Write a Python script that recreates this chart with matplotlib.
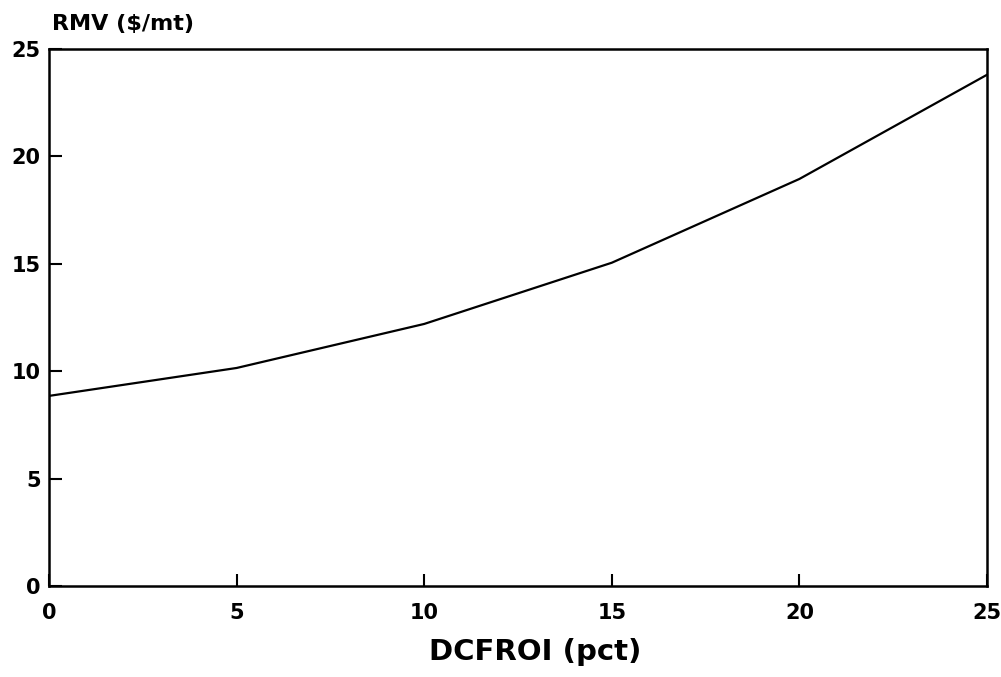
import matplotlib
matplotlib.use("Agg")
import matplotlib.pyplot as plt

dcfroi = [0, 5, 10, 15, 20, 25]
rmv = [8.85, 10.15, 12.2, 15.05, 18.95, 23.8]
xticks = [0, 5, 10, 15, 20, 25]
yticks = [0, 5, 10, 15, 20, 25]

W, H = 1001, 677
fig = plt.figure(figsize=(W / 100, H / 100), dpi=100)
left, right, bottom, top = 49, 987, 586, 49
ax = fig.add_axes([left / W, 1 - bottom / H, (right - left) / W, (bottom - top) / H])

ax.plot(dcfroi, rmv, color="black", lw=1.6)
ax.set_xlim(0, 25)
ax.set_ylim(0, 25)
ax.set_xticks(xticks)
ax.set_yticks(yticks)
font = ["DejaVu Sans"]
ax.set_xticklabels([str(t) for t in xticks], fontsize=15, fontweight="bold", family=font)
ax.set_yticklabels([str(t) for t in yticks], fontsize=15, fontweight="bold", family=font)
ax.tick_params(axis="both", direction="in", length=9, width=1.5, color="black")
ax.tick_params(axis="x", pad=12)
ax.tick_params(axis="y", pad=6)
for s in ax.spines.values():
    s.set_linewidth(1.8)
    s.set_color("black")

fig.text(52 / W, 1 - 24 / H, "RMV ($/mt)", fontsize=16, fontweight="bold",
         family=font, ha="left", va="center")
fig.text(535 / W, 1 - 652 / H, "DCFROI (pct)", fontsize=21, fontweight="bold",
         family=font, ha="center", va="center")

fig.savefig("out.png", dpi=100, facecolor="white")
